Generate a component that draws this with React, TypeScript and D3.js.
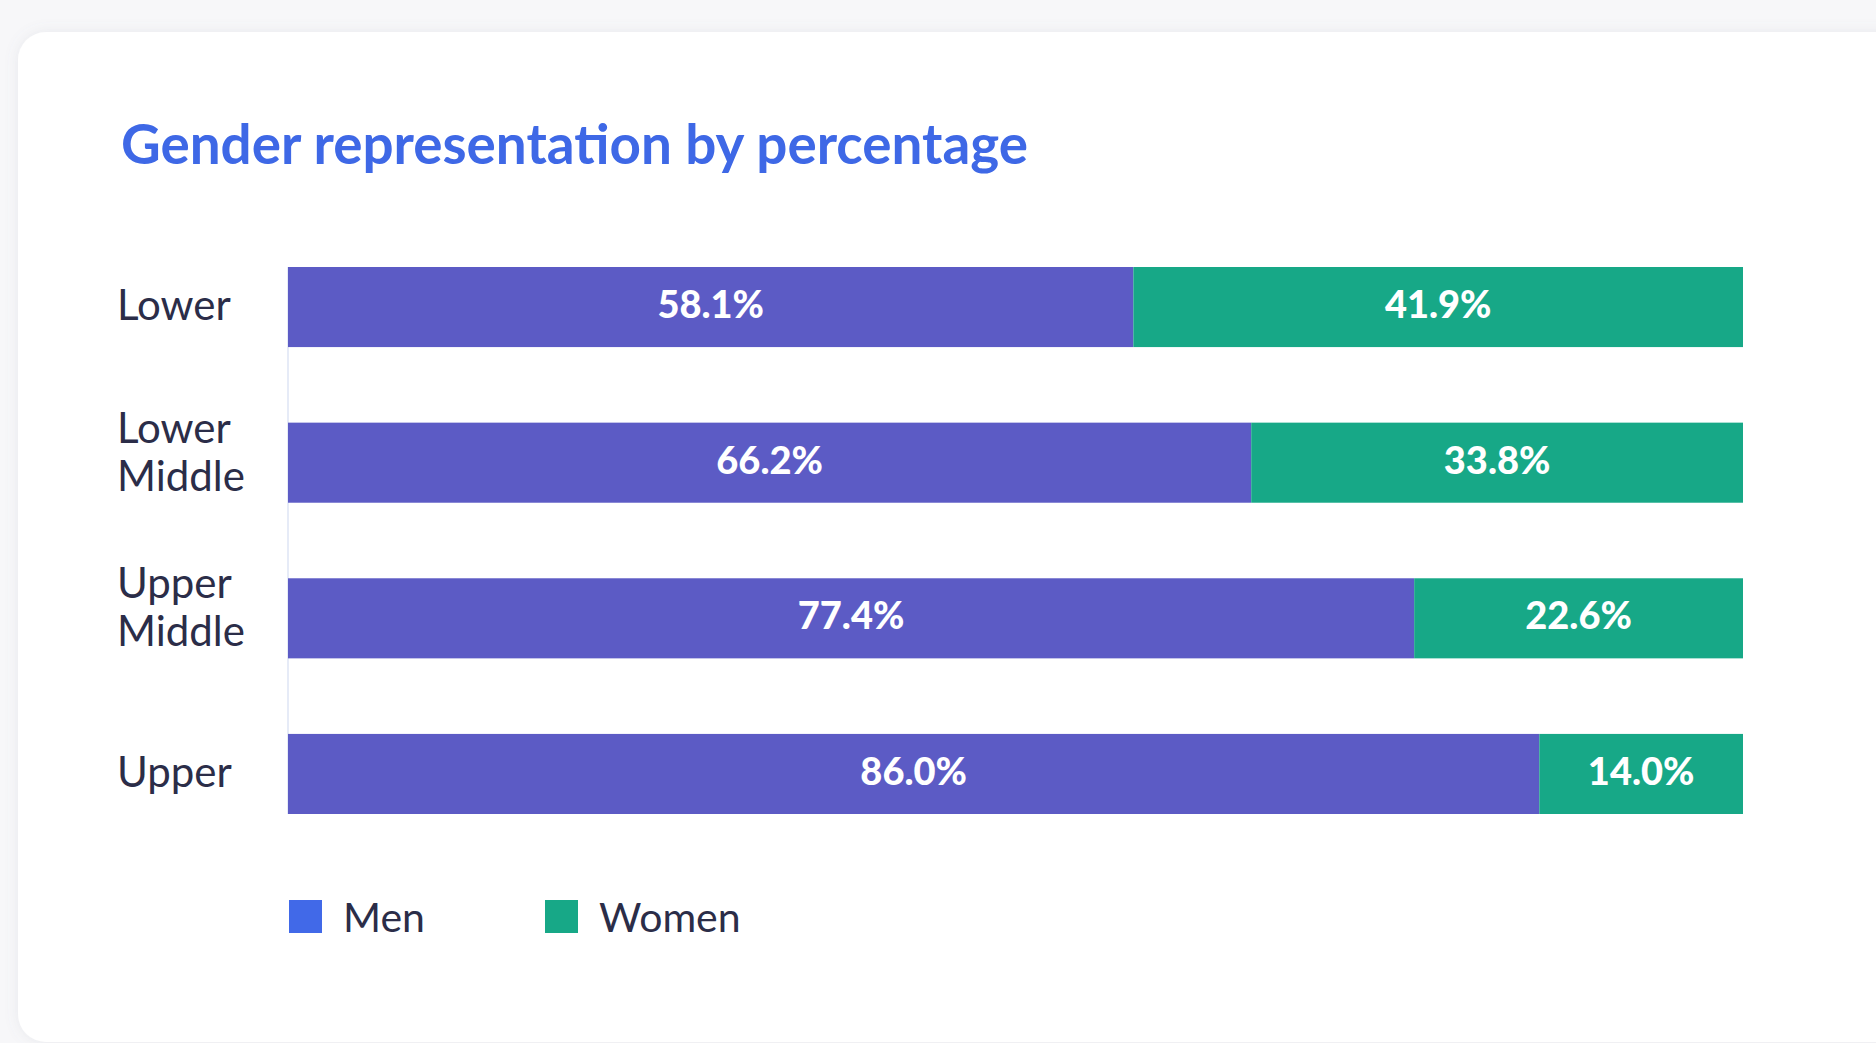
import React from "react";
import * as d3 from "d3";

const categories = ["Lower", "Lower Middle", "Upper Middle", "Upper"];
const menValues = [58.1, 66.2, 77.4, 86.0];
const womenValues = [41.9, 33.8, 22.6, 14.0];
const seriesNames = ["Men", "Women"];
const barColors = ["#5c5bc5", "#17a887"];
const legendColors = ["#4169e8", "#17a887"];
const titleText = "Gender representation by percentage";

export default function App() {
  const W = 1876;
  const H = 1043;
  const rows = categories.map((c, i) => ({
    category: c,
    Men: menValues[i],
    Women: womenValues[i],
  }));
  const stacked = d3.stack<any>().keys(seriesNames)(rows as any);
  const x = d3.scaleLinear().domain([0, 100]).range([288, 1743]);
  const y = d3
    .scaleBand<string>()
    .domain(categories)
    .range([267, 814])
    .paddingInner(0.4855)
    .paddingOuter(0);
  const bw = y.bandwidth();
  const fmt = (v: number) => d3.format(".1f")(v) + "%";
  const font = "Lato, 'Open Sans', sans-serif";
  const textColor = "#2b2d48";

  const legendX = d3.scaleOrdinal<string, number>().domain(seriesNames).range([289, 545]);

  return (
    <div style={{ position: "absolute", left: 0, top: 0, width: W, height: H, overflow: "hidden" }}>
      <svg width={W} height={H} style={{ display: "block" }}>
        <defs>
          <filter id="cardShadow" x="-5%" y="-5%" width="110%" height="110%">
            <feDropShadow dx="0" dy="0" stdDeviation="7" floodColor="#7a7f96" floodOpacity="0.12" />
          </filter>
        </defs>
        <rect x={0} y={0} width={W} height={H} fill="#f7f7f9" />
        <rect x={18} y={32} width={W + 60} height={1010} rx={28} ry={28} fill="#ffffff" filter="url(#cardShadow)" />

        <text x={121} y={164} fontFamily={font} fontWeight={700} fontSize={54.8} fill="#3e68e6">
          {titleText}
        </text>

        {/* axis line */}
        <line x1={x(0)} x2={x(0)} y1={y.range()[0]} y2={y.range()[1]} stroke="#e6ebf7" strokeWidth={2} />

        {stacked.map((s, si) => (
          <g key={s.key}>
            {s.map((d: any, i: number) => (
              <rect
                key={i}
                x={x(d[0])}
                y={y(categories[i])}
                width={x(d[1]) - x(d[0])}
                height={bw}
                fill={barColors[si]}
              />
            ))}
          </g>
        ))}

        {stacked.map((s, si) => (
          <g key={"l" + s.key}>
            {s.map((d: any, i: number) => (
              <text
                key={i}
                x={(x(d[0]) + x(d[1])) / 2}
                y={(y(categories[i]) as number) + bw / 2 + 11}
                textAnchor="middle"
                fontFamily={font}
                fontWeight={900}
                fontSize={38}
                fill="#ffffff"
              >
                {fmt(d[1] - d[0])}
              </text>
            ))}
          </g>
        ))}

        {categories.map((c) => {
          const lines = c.split(" ");
          const center = (y(c) as number) + bw / 2;
          const first = center + 13 - (lines.length - 1) * 33;
          return (
            <text key={c} x={117} fontFamily={font} fontSize={42} fill={textColor}>
              {lines.map((ln, li) => (
                <tspan key={li} x={117} y={first + li * 48}>
                  {ln}
                </tspan>
              ))}
            </text>
          );
        })}

        {seriesNames.map((n, i) => (
          <g key={"lg" + n}>
            <rect x={legendX(n)} y={900} width={33} height={33} fill={legendColors[i]} />
            <text x={legendX(n) + 54} y={932} fontFamily={font} fontSize={41} fill={textColor}>
              {n}
            </text>
          </g>
        ))}
      </svg>
    </div>
  );
}
